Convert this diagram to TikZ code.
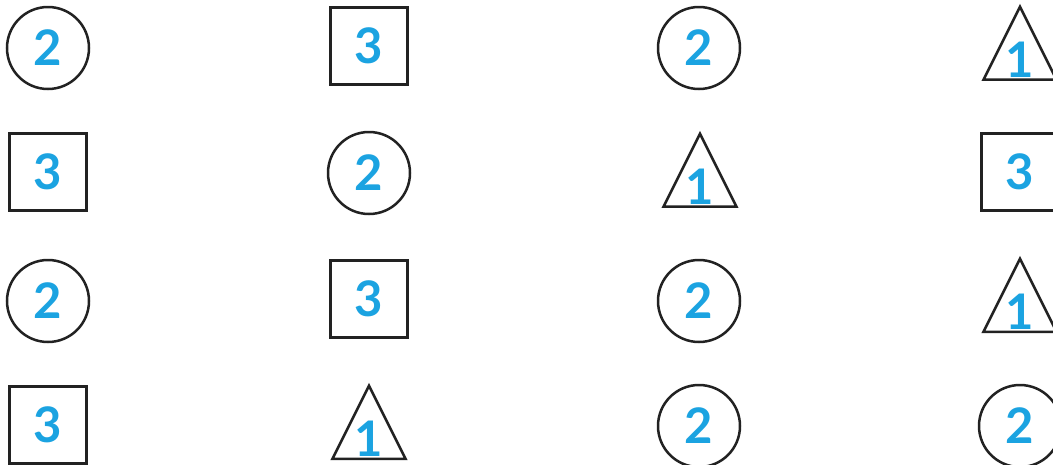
\documentclass[tikz,border=0pt]{standalone}
\usepackage{fontspec}
\setmainfont{Lato}
\usetikzlibrary{positioning,shapes.geometric}
\definecolor{DigitBlue}{HTML}{1BA3E1}
\definecolor{LineBlack}{HTML}{222222}

\begin{document}
\begin{tikzpicture}[
  x=1pt, y=-1pt,
  digit/.style={text=DigitBlue, inner sep=0pt, font=\fontsize{49}{49}\selectfont\bfseries},
  figure/.style={digit, draw=LineBlack, line width=2.5pt},
  circ/.style={figure, circle, minimum size=82pt},
  sq/.style={figure, rectangle, minimum size=77pt},
  tri/.style={figure, isosceles triangle, shape border rotate=90, isosceles triangle stretches, minimum width=73pt, minimum height=73pt, anchor=south}
]
\useasboundingbox (0,0) rectangle (1053,464);
\fill[white] (0,0) rectangle (1053,464);

% row 1
\node[circ] (circ11) at (48,48) {2};
\node[sq] (sq12) at (369,46) {3};
\node[circ] (circ13) at (699,48) {2};
\node[tri] (tri14) at (1020,81) {};
\node[digit, above=3pt of tri14.south] (one14) {1};

% row 2
\node[sq] (sq21) at (48,172) {3};
\node[circ] (circ22) at (369,173) {2};
\node[tri] (tri23) at (700,208) {};
\node[digit, above=3pt of tri23.south] (one23) {1};
\node[sq] (sq24) at (1020,172) {3};

% row 3
\node[circ] (circ31) at (48,301) {2};
\node[sq] (sq32) at (369,299) {3};
\node[circ] (circ33) at (699,301) {2};
\node[tri] (tri34) at (1020,333) {};
\node[digit, above=3pt of tri34.south] (one34) {1};

% row 4
\node[sq] (sq41) at (48,425) {3};
\node[tri] (tri42) at (369,460) {};
\node[digit, above=3pt of tri42.south] (one42) {1};
\node[circ] (circ43) at (699,426) {2};
\node[circ] (circ44) at (1020,426) {2};
\end{tikzpicture}
\end{document}
